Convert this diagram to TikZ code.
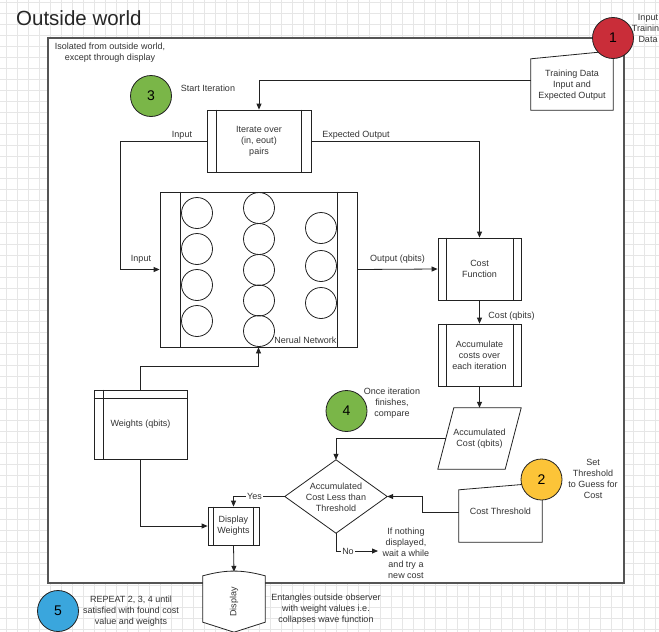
\documentclass[tikz,border=0pt]{standalone}
\usepackage{fontspec}
\setmainfont{Liberation Sans}
\usetikzlibrary{arrows.meta,calc}
\definecolor{txt}{HTML}{333333}
\definecolor{lc}{HTML}{222222}
\definecolor{framec}{HTML}{555555}
\definecolor{gridc}{HTML}{E6E6E6}
\definecolor{numred}{HTML}{C92D39}
\definecolor{numgreen}{HTML}{7AB648}
\definecolor{numyellow}{HTML}{FCC438}
\definecolor{numblue}{HTML}{3AA6DD}
\begin{document}
\begin{tikzpicture}[x=1pt,y=-1pt,
  every node/.style={font=\fontsize{9}{11}\selectfont, text=txt, align=center, inner sep=0pt},
  pbox/.style={draw=lc, line width=0.8pt, fill=white},
  ghost/.style={draw=none},
  plain/.style={draw=lc, line width=0.8pt},
  shapefill/.style={draw=lc, line width=0.8pt, fill=white},
  conn/.style={draw=lc, line width=0.8pt, -{Triangle[length=6pt,width=5pt]}},
  num/.style={circle, draw=lc, line width=0.8pt, minimum size=41pt, font=\fontsize{14}{16}\selectfont, text=black},
  neuron/.style={circle, draw=lc, line width=0.8pt, minimum size=31pt},
  lbl/.style={fill=white, inner sep=1pt},
  gridl/.style={draw=gridc, line width=0.5pt}]
\useasboundingbox (0,0) rectangle (659,632);
% background grid
\fill[white] (0,0) rectangle (659,632);
\foreach \i in {0,...,59} \draw[gridl] ({6.5+11*\i},0) -- ({6.5+11*\i},632);
\foreach \i in {0,...,57} \draw[gridl] (0,{2.3+11*\i}) -- (659,{2.3+11*\i});
% frame
\draw[draw=framec, line width=1.4pt, fill=white] (48,38) rectangle (624,583);
\node[font=\fontsize{20.5}{24}\selectfont, text=black!85, anchor=west] (title) at (16,18) {Outside world};
\node (iso) at (110,52.5) {Isolated from outside world,\\except through display};
\node (inlbl) at (648,28.5) {Input\\Training\\Data};

% training data (manual input)
\node[ghost, minimum width=82pt, minimum height=59pt] (td) at (572,80.5) {};
\draw[shapefill] (td.south west) -- (td.south east) -- (td.north east) -- ([yshift=-8pt]td.north west) -- cycle;
\node at ([yshift=-5pt]td.center) {Training Data\\Input and\\Expected Output};

% iterate box
\node[pbox, minimum width=104pt, minimum height=62pt] (it) at (259,141) {Iterate over\\(in, eout)\\pairs};
\draw[plain] ([xshift=10pt]it.north west) -- ([xshift=10pt]it.south west);
\draw[plain] ([xshift=-10pt]it.north east) -- ([xshift=-10pt]it.south east);

% neural network
\node[pbox, minimum width=197pt, minimum height=155pt] (nn) at (258.5,269.5) {};
\draw[plain] ([xshift=21pt]nn.north west) -- ([xshift=21pt]nn.south west);
\draw[plain] ([xshift=-20pt]nn.north east) -- ([xshift=-20pt]nn.south east);
\foreach \y [count=\k] in {213,249,285,321} \node[neuron] (na\k) at (197,\y) {};
\foreach \y [count=\k] in {208,239,270,300.5,331} \node[neuron] (nb\k) at (259,\y) {};
\foreach \y [count=\k] in {228,266,303} \node[neuron] (nc\k) at (321,\y) {};
\node (nnlbl) at (305.5,340) {Nerual Network};

% cost function
\node[pbox, minimum width=83pt, minimum height=62pt] (cf) at (479.5,269) {Cost\\Function};
\draw[plain] ([xshift=9pt]cf.north west) -- ([xshift=9pt]cf.south west);
\draw[plain] ([xshift=-8pt]cf.north east) -- ([xshift=-8pt]cf.south east);

% accumulate
\node[pbox, minimum width=83pt, minimum height=62pt] (acc) at (479.5,355) {Accumulate\\costs over\\each iteration};
\draw[plain] ([xshift=9pt]acc.north west) -- ([xshift=9pt]acc.south west);
\draw[plain] ([xshift=-8pt]acc.north east) -- ([xshift=-8pt]acc.south east);

% accumulated cost (parallelogram)
\node[ghost, minimum width=83pt, minimum height=61pt] (ac) at (479.5,438.5) {};
\draw[shapefill] ([xshift=16pt]ac.north west) -- (ac.north east) -- ([xshift=-16pt]ac.south east) -- (ac.south west) -- cycle;
\node at (ac.center) {Accumulated\\Cost (qbits)};
\coordinate (acl) at ([xshift=8pt]ac.west);

% decision diamond
\node[ghost, minimum width=102pt, minimum height=73pt] (dm) at (336,496.5) {};
\draw[shapefill] (dm.north) -- (dm.east) -- (dm.south) -- (dm.west) -- cycle;
\node at ([yshift=-1pt]dm.center) {Accumulated\\Cost Less than\\Threshold};

% cost threshold (manual input)
\node[ghost, minimum width=83pt, minimum height=59pt] (ct) at (500.5,512.5) {};
\draw[shapefill] (ct.south west) -- (ct.south east) -- (ct.north east) -- ([yshift=-7pt]ct.north west) -- cycle;
\node at ([yshift=1.5pt]ct.center) {Cost Threshold};

% weights (internal storage)
\node[pbox, minimum width=93pt, minimum height=69pt] (wt) at (140.5,424.5) {Weights (qbits)};
\draw[plain] ([xshift=10pt]wt.north west) -- ([xshift=10pt]wt.south west);
\draw[plain] ([yshift=-9pt]wt.north west) -- ([yshift=-9pt]wt.north east);

% display weights
\node[pbox, minimum width=51pt, minimum height=38pt] (dw) at (233.5,526) {Display\\Weights};
\draw[plain] ([xshift=6pt]dw.north west) -- ([xshift=6pt]dw.south west);
\draw[plain] ([xshift=-6pt]dw.north east) -- ([xshift=-6pt]dw.south east);

% display
\node[ghost, minimum width=62pt, minimum height=60pt] (disp) at (234,602) {};
\draw[shapefill] ([yshift=-4pt]disp.north west) to[out=15,in=165] ([yshift=-4pt]disp.north east) -- ([yshift=10pt]disp.south east) -- (disp.south) -- ([yshift=10pt]disp.south west) -- cycle;
\node[rotate=90] (displbl) at (disp.center) {Display};

% numbered circles
\node[num, fill=numred] (c1) at (613,38) {1};
\node[num, fill=numgreen] (c3) at (151,96) {3};
\node[num, fill=numgreen] (c4) at (346.5,411) {4};
\node[num, fill=numyellow] (c2) at (541.5,479.5) {2};
\node[num, fill=numblue] (c5) at (58,611) {5};

% annotations
\node (startlbl) at (208,88) {Start Iteration};
\node (oncelbl) at (392,403.5) {Once iteration\\finishes,\\compare};
\node (setlbl) at (593,478.5) {Set\\Threshold\\to Guess for\\Cost};
\node (nothing) at (406,553) {If nothing\\displayed,\\wait a while\\and try a\\new cost};
\node (entang) at (326,609) {Entangles outside observer\\with weight values i.e.\\collapses wave function};
\node (repeat) at (131,611) {REPEAT 2, 3, 4 until\\satisfied with found cost\\value and weights};

% connectors
\draw[conn] (td.west) -| (it.north);
\draw[conn] (it.west) -- ++(-86,0) |- (nn.west);
\node (inlbl1) at (182,135) {Input};
\node (inlbl2) at (141,259) {Input};
\draw[conn] (it.east) -| (cf.north);
\node (eolbl) at (356,135) {Expected Output};
\draw[conn] (nn.east) -- (cf.west);
\node (outlbl) at (397.5,259) {Output (qbits)};
\draw[conn] (cf.south) -- (acc.north);
\node (costlbl) at (511.5,316) {Cost (qbits)};
\draw[conn] (acc.south) -- (ac.north);
\draw[conn] (acl) -| (dm.north);
\draw[conn] (ct.west) -- ++(-36,0) |- (dm.east);
\draw[conn] (dm.west) -| (dw.north);
\node[lbl] (yeslbl) at (254.5,496.5) {Yes};
\coordinate (noend) at (378,551);
\draw[conn] (dm.south) |- (noend);
\node[lbl] (nolbl) at (348,551) {No};
\draw[conn] (wt.north) -- ++(0,-23) -| (nn.south);
\draw[conn] (wt.south) |- (dw.west);
\draw[conn] (dw.south) -- (disp.north);
\end{tikzpicture}
\end{document}
